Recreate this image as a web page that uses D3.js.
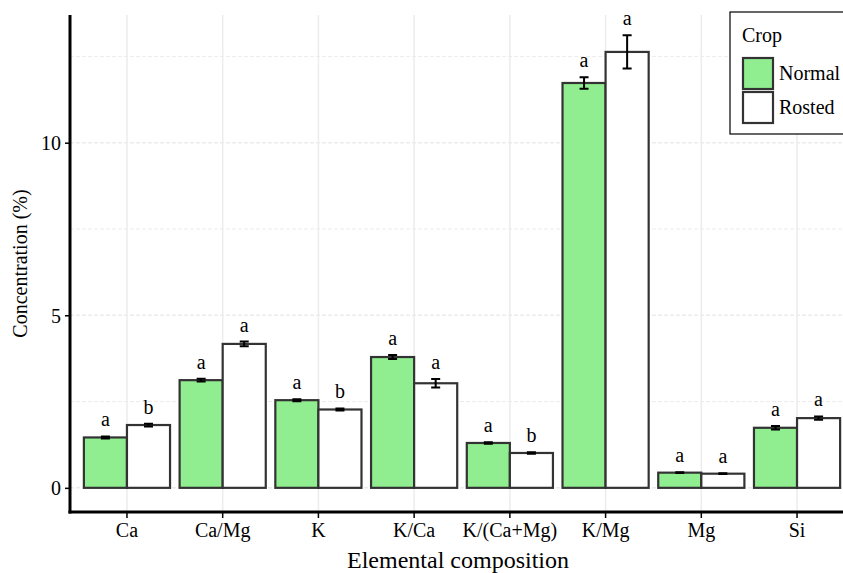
<!DOCTYPE html>
<html>
<head>
<meta charset="utf-8">
<script src="https://cdn.jsdelivr.net/npm/d3@7"></script>
<style>
  body { margin: 0; background: #fff; }
  svg text { font-family: "Liberation Serif", "Times New Roman", Times, "DejaVu Serif", serif; fill: #000; }
</style>
</head>
<body>
<div id="chart"></div>
<script>
// categories on the x axis
const categories = ["Ca", "Ca/Mg", "K", "K/Ca", "K/(Ca+Mg)", "K/Mg", "Mg", "Si"];
// the two crop groups
const groups = ["Normal", "Rosted"];
// mean values per category
const normalMeans = [1.46, 3.12, 2.54, 3.79, 1.30, 11.73, 0.44, 1.74];
const rostedMeans = [1.82, 4.17, 2.27, 3.03, 1.01, 12.63, 0.41, 2.02];
// error bar half widths
const normalErr = [0.03, 0.04, 0.03, 0.06, 0.02, 0.17, 0.01, 0.05];
const rostedErr = [0.04, 0.07, 0.03, 0.12, 0.02, 0.48, 0.01, 0.05];
// significance letters
const normalLetters = ["a", "a", "a", "a", "a", "a", "a", "a"];
const rostedLetters = ["b", "a", "b", "a", "b", "a", "a", "a"];
// y axis ticks
const yTicks = [0, 5, 10];
const yMinor = [2.5, 7.5, 12.5];

const width = 843, height = 573;
const serif = "'Liberation Serif', 'Times New Roman', Times, 'DejaVu Serif', serif";
const panel = {left: 70, right: 854, top: 15, bottom: 512};
const fills = {Normal: "#90ee90", Rosted: "#ffffff"};

// zip the two groups into one row per bar
let rows = [];
categories.forEach((c, i) => {
    rows.push({cat: c, group: "Normal", value: normalMeans[i], err: normalErr[i], letter: normalLetters[i]});
    rows.push({cat: c, group: "Rosted", value: rostedMeans[i], err: rostedErr[i], letter: rostedLetters[i]});
});

let svg = d3.select("#chart").append("svg")
    .attr("width", width)
    .attr("height", height)
    .style("font-family", serif);

// x scale, one band per category
let x = d3.scaleBand()
    .domain(categories)
    .range([panel.left, panel.right])
    .paddingInner(0.1)
    .paddingOuter(0.145);
let xSub = d3.scaleBand()
    .domain(groups)
    .range([0, x.bandwidth()]);

// y scale
let y = d3.scaleLinear()
    .domain([-0.7, 13.7])
    .range([panel.bottom, panel.top]);

let cx = c => x(c) + x.bandwidth() / 2;

// grid lines
let grid = svg.append("g").attr("class", "grid");
grid.selectAll(".vgrid")
    .data(categories)
    .enter().append("line")
    .attr("x1", cx).attr("x2", cx)
    .attr("y1", panel.top).attr("y2", panel.bottom)
    .attr("stroke", "#ececec")
    .attr("stroke-width", 1.5);
grid.selectAll(".hgrid")
    .data(yTicks.concat(yMinor))
    .enter().append("line")
    .attr("x1", panel.left).attr("x2", panel.right)
    .attr("y1", d => y(d)).attr("y2", d => y(d))
    .attr("stroke", "#ececec")
    .attr("stroke-width", d => yTicks.includes(d) ? 1.5 : 1)
    .attr("stroke-dasharray", "4,2");

// bars
let bars = svg.selectAll(".bar")
    .data(rows)
    .enter().append("g")
    .attr("class", "bar")
    .attr("transform", d => `translate(${x(d.cat) + xSub(d.group)},0)`);

bars.append("rect")
    .attr("x", 0)
    .attr("y", d => y(d.value))
    .attr("width", xSub.bandwidth())
    .attr("height", d => y(0) - y(d.value))
    .attr("fill", d => fills[d.group])
    .attr("stroke", "#333")
    .attr("stroke-width", 2.2);

// error bars
let half = xSub.bandwidth() / 2, cap = 4.5;
bars.append("path")
    .attr("d", d => {
        let top = y(d.value + d.err), bot = y(d.value - d.err);
        return `M${half - cap},${top}H${half + cap}M${half},${top}V${bot}M${half - cap},${bot}H${half + cap}`;
    })
    .attr("fill", "none")
    .attr("stroke", "#000")
    .attr("stroke-width", 2);

// letters
bars.append("text")
    .attr("x", half)
    .attr("y", d => y(d.value + d.err) - 10)
    .attr("text-anchor", "middle")
    .attr("font-size", "20px")
    .style("font-family", serif)
    .text(d => d.letter);

// y axis
let yAxis = svg.append("g")
    .attr("transform", `translate(${panel.left},0)`)
    .call(d3.axisLeft(y).tickValues(yTicks).tickSize(5).tickPadding(4));
yAxis.attr("font-family", null);
yAxis.select(".domain").remove();
yAxis.selectAll(".tick line").attr("stroke", "#000").attr("stroke-width", 1.5);
yAxis.selectAll(".tick text")
    .attr("font-size", "20px")
    .style("font-family", serif)
    .attr("dy", "0.35em");
svg.append("line")
    .attr("x1", panel.left).attr("x2", panel.left)
    .attr("y1", panel.top).attr("y2", panel.bottom + 1.5)
    .attr("stroke", "#000").attr("stroke-width", 3);

// x axis
let xAxis = svg.append("g")
    .attr("transform", `translate(0,${panel.bottom})`)
    .call(d3.axisBottom(x).tickSize(6).tickPadding(5));
xAxis.attr("font-family", null);
xAxis.select(".domain").remove();
xAxis.selectAll(".tick line").attr("stroke", "#000").attr("stroke-width", 1.5);
xAxis.selectAll(".tick text")
    .attr("font-size", "20px")
    .style("font-family", serif);
svg.append("line")
    .attr("x1", panel.left - 1.5).attr("x2", panel.right)
    .attr("y1", panel.bottom).attr("y2", panel.bottom)
    .attr("stroke", "#000").attr("stroke-width", 3);

// axis titles
svg.append("text")
    .attr("x", 458)
    .attr("y", 568)
    .attr("text-anchor", "middle")
    .attr("font-size", "24px")
    .style("font-family", serif)
    .text("Elemental composition");
svg.append("text")
    .attr("transform", `translate(27,${(panel.top + panel.bottom) / 2}) rotate(-90)`)
    .attr("text-anchor", "middle")
    .attr("font-size", "20px")
    .style("font-family", serif)
    .text("Concentration (%)");

// legend
let legend = svg.append("g").attr("transform", "translate(730,12)");
legend.append("rect")
    .attr("x", 0).attr("y", 0)
    .attr("width", 125).attr("height", 122)
    .attr("fill", "#fff")
    .attr("stroke", "#000")
    .attr("stroke-width", 1.2);
legend.append("text")
    .attr("x", 12).attr("y", 30)
    .attr("font-size", "20px")
    .style("font-family", serif)
    .text("Crop");
let keys = legend.selectAll(".key")
    .data(groups)
    .enter().append("g")
    .attr("transform", (d, i) => `translate(13,${46 + i * 34})`);
keys.append("rect")
    .attr("width", 30).attr("height", 31)
    .attr("fill", d => fills[d])
    .attr("stroke", "#333")
    .attr("stroke-width", 2.2);
keys.append("text")
    .attr("x", 36).attr("y", 22)
    .attr("font-size", "20px")
    .style("font-family", serif)
    .text(d => d);
</script>
</body>
</html>
